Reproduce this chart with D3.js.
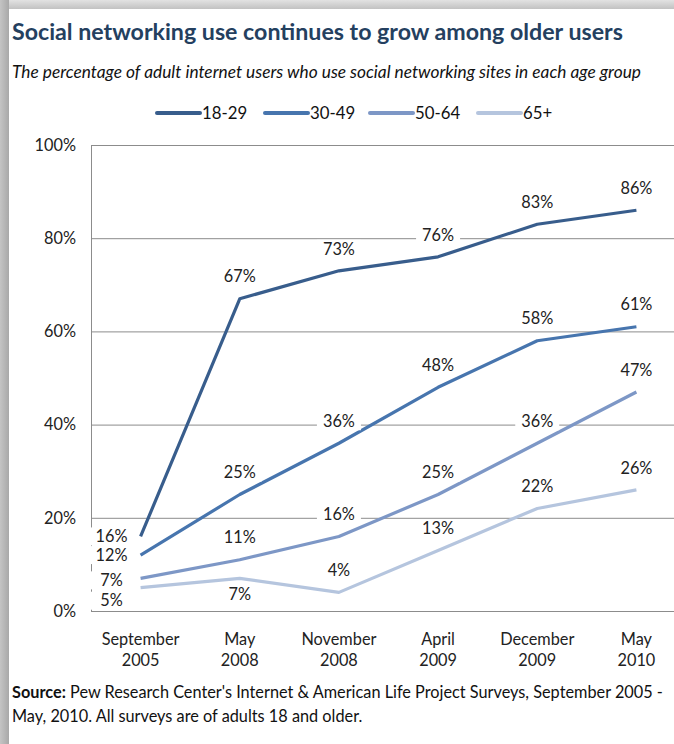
<!DOCTYPE html>
<html>
<head>
<meta charset="utf-8">
<script src="https://cdn.jsdelivr.net/npm/d3@7"></script>
<style>
  body { margin: 0; background: #fff; }
  svg { display: block; font-family: Lato, "Noto Sans", sans-serif; }
</style>
</head>
<body>
<div id="chart"></div>
<script>
// Data
const dates = [["September", "2005"], ["May", "2008"], ["November", "2008"], ["April", "2009"], ["December", "2009"], ["May", "2010"]];
const groups = ["18-29", "30-49", "50-64", "65+"];
const v1829 = [16, 67, 73, 76, 83, 86];
const v3049 = [12, 25, 36, 48, 58, 61];
const v5064 = [7, 11, 16, 25, 36, 47];
const v65 = [5, 7, 4, 13, 22, 26];
const yTicks = [0, 20, 40, 60, 80, 100];

const colors = ["#385d8c", "#4775ae", "#7d97c6", "#b5c5de"];
// where each label sits relative to its point
const place = [
  ["left0", "up", "up", "up", "up", "up"],
  ["left0", "up", "up", "up", "up", "up"],
  ["left2", "up", "up", "up", "up", "up"],
  ["left13", "down", "up", "up", "up", "up"]
];
const series = [v1829, v3049, v5064, v65].map((vals, i) => ({
  name: groups[i], color: colors[i],
  points: vals.map((v, j) => ({ i: j, v, pos: place[i][j] }))
}));

const W = 674, H = 744;
const plot = { left: 91, right: 686, top: 145, bottom: 611 };
const fs = 16.3;

const svg = d3.select("#chart").append("svg")
  .attr("width", W).attr("height", H);

// card shadow
const defs = svg.append("defs");
const gl = defs.append("linearGradient").attr("id", "shL");
gl.append("stop").attr("offset", "0").attr("stop-color", "#c4c4c4");
gl.append("stop").attr("offset", "1").attr("stop-color", "#a8a8a8");
const gt = defs.append("linearGradient").attr("id", "shT").attr("x2", 0).attr("y2", 1);
gt.append("stop").attr("offset", "0").attr("stop-color", "#e2e2e2");
gt.append("stop").attr("offset", "1").attr("stop-color", "#c2c2c2");
svg.append("rect").attr("width", W).attr("height", 9).attr("fill", "url(#shT)");
svg.append("rect").attr("width", 9).attr("height", H).attr("fill", "url(#shL)");
svg.append("rect").attr("x", 9).attr("y", 9).attr("width", W).attr("height", H).attr("fill", "#fff");

// titles
svg.append("text").attr("x", 12).attr("y", 40)
  .attr("font-size", 23.2).attr("font-weight", 700).attr("fill", "#24405f")
  .text("Social networking use continues to grow among older users");
svg.append("text").attr("x", 12).attr("y", 78)
  .attr("font-size", 17.3).attr("font-style", "italic").attr("fill", "#111")
  .text("The percentage of adult internet users who use social networking sites in each age group");

// legend
const legX = [157, 265, 370, 478];
const leg = svg.append("g").selectAll("g").data(series).join("g")
  .attr("transform", (d, i) => `translate(${legX[i]},113)`);
leg.append("line").attr("x1", 0).attr("x2", 43)
  .attr("stroke", d => d.color).attr("stroke-width", 4).attr("stroke-linecap", "round");
leg.append("text").attr("x", 45).attr("dy", "0.35em")
  .attr("font-size", 16.8).attr("fill", "#111").text(d => d.name);

// scales
const x = d3.scalePoint().domain(d3.range(dates.length))
  .range([plot.left, plot.right]).padding(0.5);
const y = d3.scaleLinear().domain([0, 100]).range([plot.bottom, plot.top]);

// grid and axes
const yAxis = d3.axisLeft(y).tickValues(yTicks)
  .tickSize(-(plot.right - plot.left)).tickFormat(d => d + "%").tickPadding(15);
const gy = svg.append("g").attr("transform", `translate(${plot.left},0)`).call(yAxis);
gy.select(".domain").attr("stroke", "#8c8c8c");
gy.selectAll(".tick line").attr("stroke", "#8c8c8c");
gy.selectAll(".tick text").attr("font-size", fs).attr("fill", "#222")
  .attr("font-family", "Lato, 'Noto Sans', sans-serif");

const gx = svg.append("g").selectAll("text").data(dates).join("text")
  .attr("x", (d, i) => x(i)).attr("y", 645)
  .attr("text-anchor", "middle").attr("font-size", fs).attr("fill", "#222");
gx.append("tspan").attr("x", (d, i) => x(i)).text(d => d[0]);
gx.append("tspan").attr("x", (d, i) => x(i)).attr("dy", 21).text(d => d[1]);

// lines
const line = d3.line().x(d => x(d.i)).y(d => y(d.v));
svg.append("g").selectAll("path").data(series).join("path")
  .attr("d", d => line(d.points))
  .attr("fill", "none").attr("stroke", d => d.color)
  .attr("stroke-width", 3.2).attr("stroke-linejoin", "round");

// labels
const labs = svg.append("g").selectAll("g")
  .data(series.flatMap(s => s.points)).join("g")
  .attr("transform", d => {
    let lx = x(d.i), ly = y(d.v);
    if (d.pos === "up") ly -= 22;
    else if (d.pos === "down") ly += 16;
    else { lx -= 29; ly += +d.pos.slice(4); }
    return `translate(${lx},${ly})`;
  });
labs.append("rect").attr("x", -22).attr("y", -9).attr("width", 44).attr("height", 18).attr("fill", "#fff");
labs.append("text").attr("text-anchor", "middle").attr("dy", "0.35em")
  .attr("font-size", fs).attr("fill", "#222").text(d => d.v + "%");

// source
const src = svg.append("text").attr("x", 12).attr("y", 698).attr("font-size", fs).attr("fill", "#111");
src.append("tspan").attr("font-weight", 700).text("Source:");
src.append("tspan").text("  Pew Research Center's Internet & American Life Project Surveys, September 2005 -");
svg.append("text").attr("x", 12).attr("y", 722).attr("font-size", fs).attr("fill", "#111")
  .text("May, 2010. All surveys are of adults 18 and older.");
</script>
</body>
</html>
